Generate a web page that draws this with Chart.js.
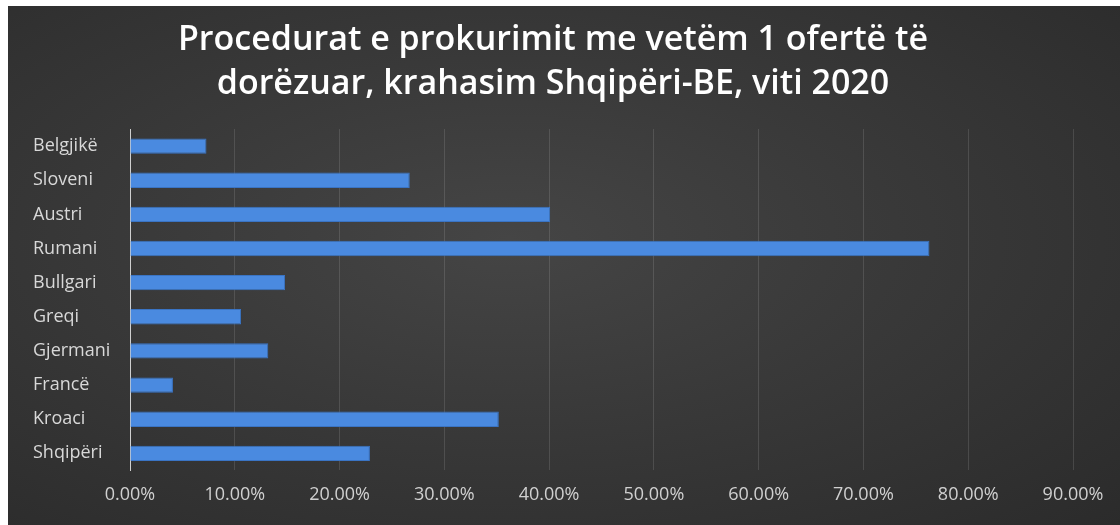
<!DOCTYPE html>
<html>
<head>
<meta charset="utf-8">
<script src="https://cdn.jsdelivr.net/npm/chart.js@4/dist/chart.umd.min.js"></script>
<style>
  body { margin: 0; background: #fff; width: 1120px; height: 525px; overflow: hidden; }
  #box {
    position: absolute; left: 8px; top: 6px; width: 1112px; height: 519px;
    background: radial-gradient(ellipse at 45% 45%, #454545 0%, #393939 45%, #2b2b2b 100%);
  }
</style>
</head>
<body>
<div id="box"><canvas id="chart" width="1112" height="519"></canvas></div>
<script>
const countries = ['Belgjikë', 'Sloveni', 'Austri', 'Rumani', 'Bullgari', 'Greqi', 'Gjermani', 'Francë', 'Kroaci', 'Shqipëri'];
const shares = [0.073, 0.267, 0.401, 0.763, 0.148, 0.106, 0.132, 0.041, 0.352, 0.229];
const titleLines = ['Procedurat e prokurimit me vetëm 1 ofertë të', 'dorëzuar, krahasim Shqipëri-BE, viti 2020'];

const ctx = document.getElementById('chart').getContext('2d');
new Chart(ctx, {
    type: 'bar',
    data: {
        labels: countries,
        datasets: [{
            data: shares,
            backgroundColor: '#4a8ae0',
            borderColor: '#3a74c4',
            borderWidth: 1,
            barPercentage: 0.9,
            categoryPercentage: 0.5
        }]
    },
    options: {
        indexAxis: 'y',
        responsive: false,
        animation: false,
        layout: { padding: { left: 25, right: 47, top: 4, bottom: 5 } },
        plugins: {
            legend: { display: false },
            tooltip: { enabled: false },
            title: {
                display: true,
                text: titleLines,
                color: '#ffffff',
                font: { family: 'Open Sans', size: 34, weight: '600', lineHeight: 1.28 },
                padding: { top: 9, bottom: 23 }
            }
        },
        scales: {
            x: {
                min: 0,
                max: 0.9,
                ticks: {
                    stepSize: 0.1,
                    color: '#d0d0d0',
                    font: { family: 'Open Sans', size: 18 },
                    padding: 14,
                    callback: v => (v * 100).toFixed(2) + '%'
                },
                grid: { color: 'rgba(255,255,255,0.12)', drawTicks: false },
                border: { display: false }
            },
            y: {
                afterFit: axis => { axis.width = 97; },
                ticks: {
                    color: '#d8d8d8',
                    font: { family: 'Open Sans', size: 18 },
                    crossAlign: 'far',
                    padding: 8
                },
                grid: { display: false },
                border: { display: true, color: '#cfcfcf', width: 1 }
            }
        }
    }
});
</script>
</body>
</html>
